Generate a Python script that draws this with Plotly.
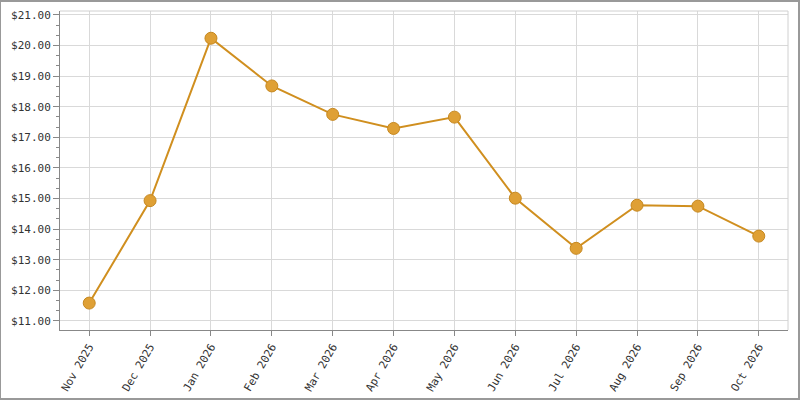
import plotly.graph_objects as go

months = ["Nov 2025", "Dec 2025", "Jan 2026", "Feb 2026", "Mar 2026", "Apr 2026",
          "May 2026", "Jun 2026", "Jul 2026", "Aug 2026", "Sep 2026", "Oct 2026"]
prices = [11.58, 14.93, 20.24, 18.68, 17.75, 17.29, 17.66, 15.01, 13.37, 14.78, 14.75, 13.77]
y_ticks = [11, 12, 13, 14, 15, 16, 17, 18, 19, 20, 21]
y_tick_labels = ["$%.2f" % v for v in y_ticks]

fig = go.Figure()
fig.add_trace(go.Scatter(
    x=list(range(len(months))), y=prices, mode="lines+markers",
    line=dict(color="#D08F1F", width=2),
    marker=dict(size=12, color="#DFA035", line=dict(color="#C68820", width=1)),
    hoverinfo="skip",
))

font = dict(family="DejaVu Sans Mono", size=11, color="#333333")

fig.update_layout(
    width=800, height=400,
    margin=dict(l=60, r=12, t=11, b=70),
    paper_bgcolor="white", plot_bgcolor="white",
    showlegend=False,
    font=font,
    xaxis=dict(
        range=[-0.48, 11.48], automargin=False,
        tickmode="array", tickvals=list(range(len(months))), ticktext=months,
        tickangle=-60, ticks="outside", ticklen=5, tickcolor="#888888",
        showgrid=True, gridcolor="#d9d9d9", gridwidth=1,
        showline=True, linecolor="#888888", linewidth=1,
        zeroline=False, tickfont=font,
    ),
    yaxis=dict(
        range=[10.70, 21.13], automargin=False,
        tickmode="array", tickvals=y_ticks, ticktext=y_tick_labels,
        ticks="outside", ticklen=6, tickcolor="#888888",
        showgrid=True, gridcolor="#d9d9d9", gridwidth=1,
        showline=True, linecolor="#888888", linewidth=1,
        zeroline=False, tickfont=font,
        minor=dict(dtick=1/3, tick0=11, ticks="outside", ticklen=3,
                   tickcolor="#888888", showgrid=False),
    ),
    shapes=[
        dict(type="line", xref="paper", yref="paper", x0=0, x1=1, y0=1, y1=1,
             line=dict(color="#d0d0d0", width=1)),
        dict(type="line", xref="paper", yref="paper", x0=1, x1=1, y0=0, y1=1,
             line=dict(color="#d0d0d0", width=1)),
        dict(type="rect", xref="paper", yref="paper",
             x0=-60/728, x1=1 + 11/728, y0=-69/319, y1=1 + 10/319,
             line=dict(color="#999999", width=2), layer="above"),
    ],
)

fig.write_html("out.html")
